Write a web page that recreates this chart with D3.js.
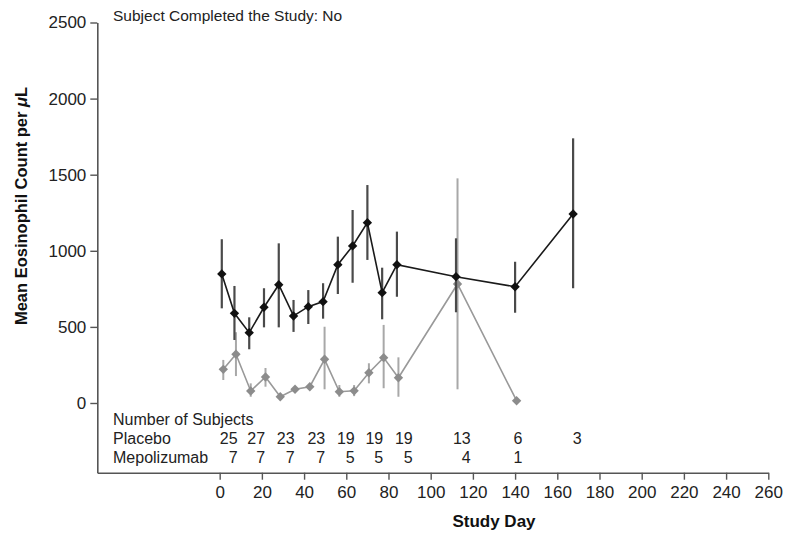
<!DOCTYPE html>
<html>
<head>
<meta charset="utf-8">
<script src="https://cdn.jsdelivr.net/npm/d3@7"></script>
<style>
  html, body { margin: 0; padding: 0; background: #fff; }
  svg { display: block; font-family: "Liberation Sans", Arial, Helvetica, sans-serif; }
</style>
</head>
<body>
<svg id="chart" width="785" height="533"></svg>
<script>
// Visit days (shared by both treatment groups)
const visitDays = [1, 7, 14, 21, 28, 35, 42, 49, 56, 63, 70, 77, 84, 112, 140, 167.5];

// Placebo: mean eosinophil count and error-bar limits
const placeboMean = [848, 589, 462, 629, 777, 572, 633, 666, 909, 1032, 1185, 725, 909, 830, 764, 1242];
const placeboLow  = [622, 414, 353, 497, 497, 467, 519, 554, 716, 790, 940, 550, 698, 596, 593, 754];
const placeboHigh = [1076, 769, 563, 754, 1049, 677, 742, 787, 1093, 1268, 1432, 889, 1126, 1082, 928, 1739];

// Mepolizumab: mean eosinophil count and error-bar limits (last visit has a single subject)
const mepoMean = [221, 320, 79, 171, 41, 90, 107, 287, 74, 80, 199, 298, 166, 782, 15];
const mepoLow  = [151, 177, 41, 107, 20, 68, 85, 90, 41, 45, 129, 97, 41, 90, null];
const mepoHigh = [283, 465, 129, 230, 62, 112, 129, 501, 118, 118, 261, 513, 300, 1476, null];

// Number of subjects table
const tableDays = [8.5, 21.5, 35.5, 50, 64, 77.5, 91.5, 119, 143.5, 171.5];
const placeboN = [25, 27, 23, 23, 19, 19, 19, 13, 6, 3];
const mepoN    = [7, 7, 7, 7, 5, 5, 5, 4, 1];

// Axis ticks
const xTicks = d3.range(0, 261, 20);
const yTicks = [0, 500, 1000, 1500, 2000, 2500];

const svg = d3.select("#chart");

const x = d3.scaleLinear().domain([-58, 260]).range([97.3, 768.3]);
const y = d3.scaleLinear().domain([-458, 2500]).range([472.7, 22.5]);

// ---- axes ----
const yAxis = d3.axisLeft(y).tickValues(yTicks).tickFormat(d3.format("d"))
  .tickSize(7).tickSizeOuter(0).tickPadding(4);
const gy = svg.append("g").attr("transform", `translate(${x.range()[0]},0)`).call(yAxis);

const xAxis = d3.axisBottom(x).tickValues(xTicks).tickFormat(d3.format("d"))
  .tickSize(7).tickSizeOuter(0).tickPadding(6);
const gx = svg.append("g").attr("transform", `translate(0,${y.range()[0]})`).call(xAxis);

[gx, gy].forEach(g => {
  g.select(".domain").attr("stroke", "#555").attr("stroke-width", 1.6);
  g.selectAll(".tick line").attr("stroke", "#555").attr("stroke-width", 1.4);
  g.selectAll(".tick text").attr("fill", "#222").style("font-size", "17px")
    .style("font-family", "'Liberation Sans', Arial, sans-serif");
});

// ---- axis titles ----
svg.append("text")
  .attr("x", (x(0) + x.range()[1]) / 2)
  .attr("y", 527)
  .attr("text-anchor", "middle")
  .attr("fill", "#111")
  .style("font-size", "17px").style("font-weight", "bold")
  .text("Study Day");

const yl = svg.append("text")
  .attr("transform", "translate(27,206) rotate(-90)")
  .attr("text-anchor", "middle")
  .attr("fill", "#111")
  .style("font-size", "16.5px").style("font-weight", "bold");
yl.append("tspan").text("Mean Eosinophil Count per ");
yl.append("tspan").style("font-style", "italic").text("μ");
yl.append("tspan").text("L");

svg.append("text")
  .attr("x", 113).attr("y", 20.5)
  .attr("fill", "#222")
  .style("font-size", "15.5px")
  .text("Subject Completed the Study: No");

// ---- series ----
const diamond = d3.symbol().type(d3.symbolSquare).size(44);

function drawSeries(means, lows, highs, opts) {
  const pts = means.map((m, i) => ({
    px: x(visitDays[i]) + opts.dodge,
    m, lo: lows[i], hi: highs[i]
  }));
  const g = svg.append("g");
  // error bars
  g.selectAll("line.err").data(pts.filter(p => p.lo != null))
    .join("line").attr("class", "err")
    .attr("x1", p => p.px).attr("x2", p => p.px)
    .attr("y1", p => y(p.lo)).attr("y2", p => y(p.hi))
    .attr("stroke", opts.barColor).attr("stroke-width", opts.barWidth);
  // connecting line
  g.append("path").datum(pts)
    .attr("d", d3.line().x(p => p.px).y(p => y(p.m)))
    .attr("fill", "none").attr("stroke", opts.lineColor).attr("stroke-width", 1.6);
  // diamond markers
  g.selectAll("path.mk").data(pts).join("path").attr("class", "mk")
    .attr("d", diamond)
    .attr("transform", p => `translate(${p.px},${y(p.m)}) rotate(45)`)
    .attr("fill", opts.markColor);
}

drawSeries(mepoMean, mepoLow, mepoHigh, {
  dodge: 1.5, barColor: "#a8a8a8", barWidth: 2, lineColor: "#999", markColor: "#8c8c8c"
});
drawSeries(placeboMean, placeboLow, placeboHigh, {
  dodge: 0, barColor: "#4a4a4a", barWidth: 2.2, lineColor: "#1a1a1a", markColor: "#111"
});

// ---- number of subjects table ----
const tbl = svg.append("g").attr("fill", "#222").style("font-size", "16px");
tbl.append("text").attr("x", 113).attr("y", 424.5).text("Number of Subjects");
tbl.append("text").attr("x", 113).attr("y", 443.5).text("Placebo");
tbl.append("text").attr("x", 113).attr("y", 462.5).text("Mepolizumab");
tbl.selectAll("text.pn").data(placeboN).join("text").attr("class", "pn")
  .attr("x", (d, i) => x(tableDays[i])).attr("y", 443.5)
  .attr("text-anchor", "end").text(d => d);
tbl.selectAll("text.mn").data(mepoN).join("text").attr("class", "mn")
  .attr("x", (d, i) => x(tableDays[i])).attr("y", 462.5)
  .attr("text-anchor", "end").text(d => d);
</script>
</body>
</html>
